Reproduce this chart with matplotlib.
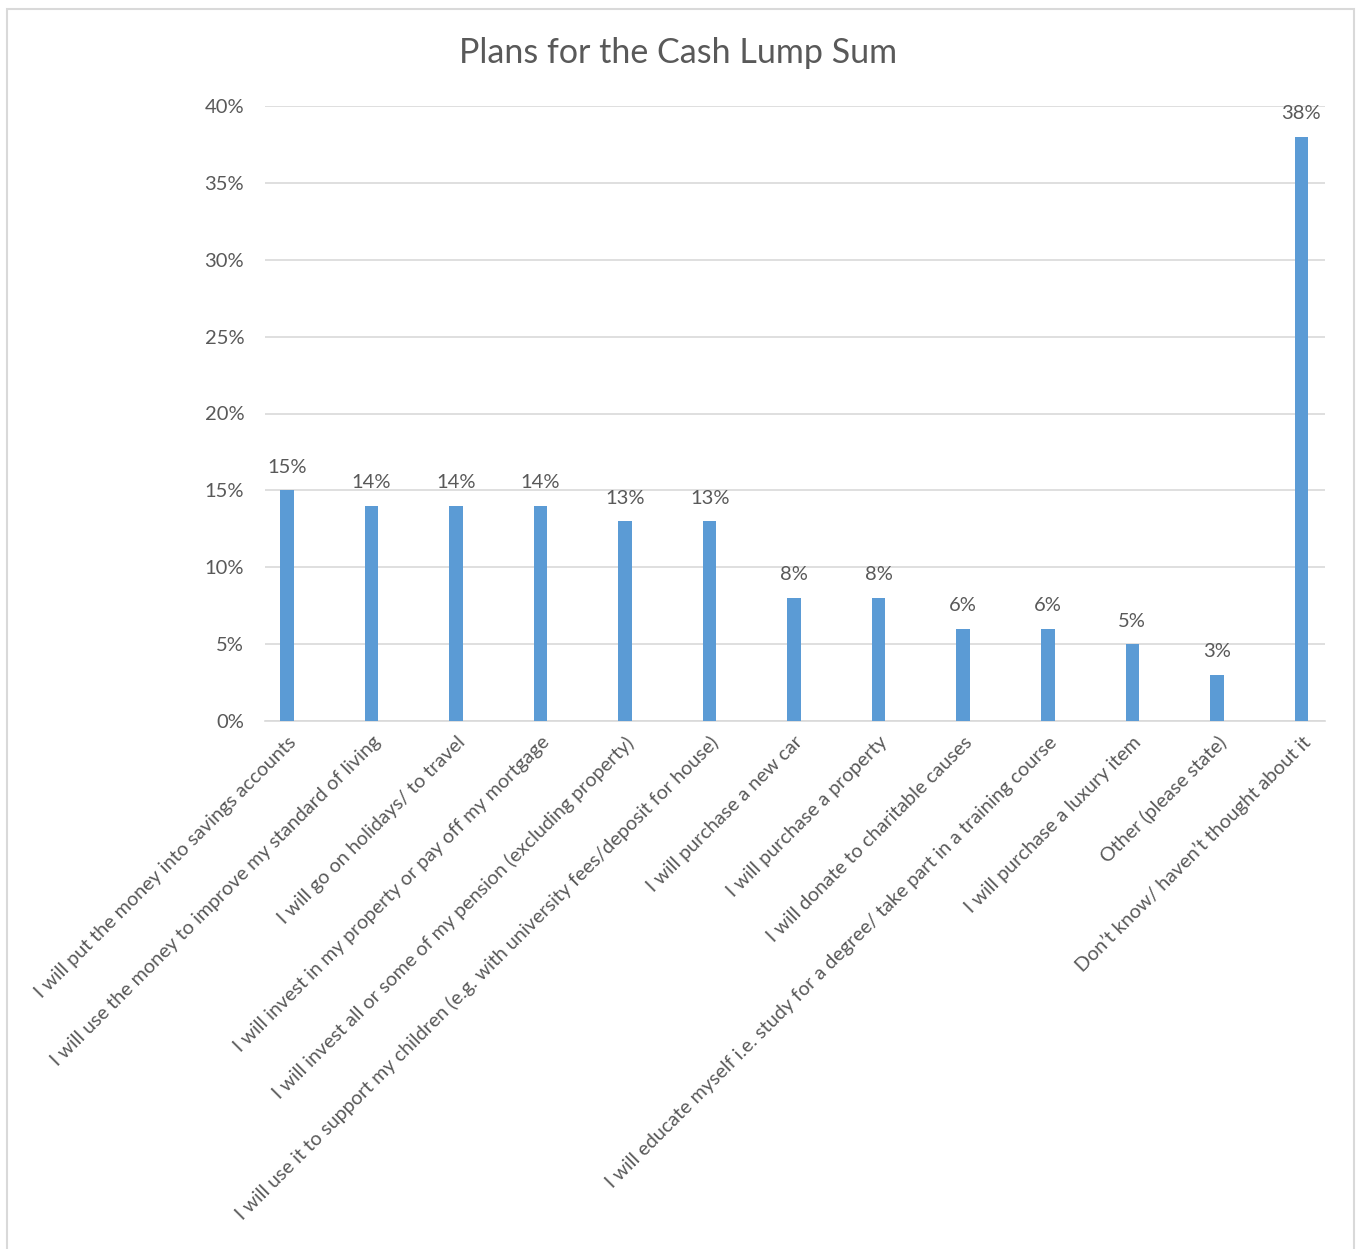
import matplotlib.pyplot as plt
import numpy as np
from matplotlib.patches import Rectangle
from matplotlib.ticker import FuncFormatter

categories = [
    "I will put the money into savings accounts",
    "I will use the money to improve my standard of living",
    "I will go on holidays/ to travel",
    "I will invest in my property or pay off my mortgage",
    "I will invest all or some of my pension (excluding property)",
    "I will use it to support my children (e.g. with university fees/deposit for house)",
    "I will purchase a new car",
    "I will purchase a property",
    "I will donate to charitable causes",
    "I will educate myself i.e. study for a degree/ take part in a training course",
    "I will purchase a luxury item",
    "Other (please state)",
    "Don\u2019t know/ haven\u2019t thought about it",
]
values = [0.15, 0.14, 0.14, 0.14, 0.13, 0.13, 0.08, 0.08, 0.06, 0.06, 0.05, 0.03, 0.38]
y_ticks = [0, 0.05, 0.10, 0.15, 0.20, 0.25, 0.30, 0.35, 0.40]

text_color = "#595959"
bar_color = "#5B9BD5"
grid_color = "#D9D9D9"
plt.rcParams['font.family'] = ['Lato', 'DejaVu Sans']

W, H = 1360, 1249
fig = plt.figure(figsize=(W / 100, H / 100), dpi=100)

# light chart border
fig.add_artist(Rectangle((7 / W, -0.01), (1354 - 7) / W, 1 - 9 / H + 0.01,
                         transform=fig.transFigure, fill=False,
                         edgecolor="#D9D9D9", linewidth=1.5))

ax = fig.add_axes([265 / W, 1 - 721 / H, (1325 - 265) / W, (721 - 106) / H])
x = np.arange(len(categories))
ax.bar(x, values, width=0.16, color=bar_color, zorder=3)

for xi, v in zip(x, values):
    ax.text(xi, v + 0.0095, f"{v * 100:.0f}%", ha="center", va="bottom",
            fontsize=14.5, color=text_color)

ax.set_xlim(-0.26, 12.28)
ax.set_ylim(0, 0.40)
ax.set_yticks(y_ticks)
ax.yaxis.set_major_formatter(FuncFormatter(lambda v, _: f"{v * 100:.0f}%"))
ax.yaxis.grid(True, color=grid_color, linewidth=1.2, zorder=0)
ax.tick_params(axis="y", length=0, pad=15, labelsize=14.5, labelcolor=text_color)
ax.tick_params(axis="x", length=0, pad=9)
ax.set_xticks(x)
ax.set_xticklabels(categories, rotation=45, ha="right", rotation_mode="anchor",
                   fontsize=14.2, color=text_color)
for s in ["top", "right", "left"]:
    ax.spines[s].set_visible(False)
ax.spines["bottom"].set_color(grid_color)
ax.spines["bottom"].set_linewidth(1.2)

fig.text(678 / W, 1 - 53 / H, "Plans for the Cash Lump Sum", ha="center", va="center",
         fontsize=24.5, color=text_color)

fig.savefig("out.png", dpi=100)
